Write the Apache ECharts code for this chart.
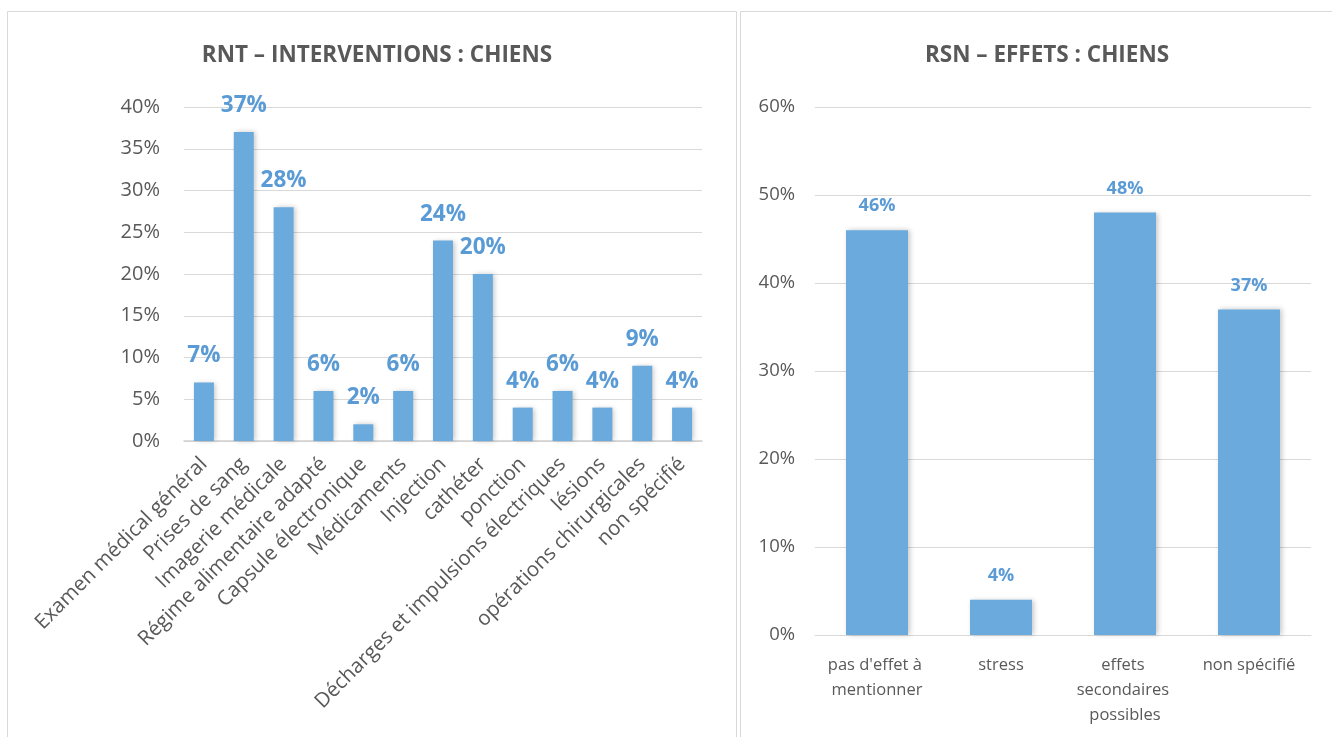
<!DOCTYPE html>
<html>
<head>
<meta charset="utf-8">
<script src="https://cdn.jsdelivr.net/npm/echarts@6/dist/echarts.min.js"></script>
<style>
  html, body { margin: 0; padding: 0; background: #fff; }
  #main { width: 1332px; height: 737px; }
</style>
</head>
<body>
<div id="main"></div>
<script>
// RNT - interventions (chiens)
const interventionCats = ['Examen médical général', 'Prises de sang', 'Imagerie médicale',
  'Régime alimentaire adapté', 'Capsule électronique', 'Médicaments', 'Injection', 'cathéter',
  'ponction', 'Décharges et impulsions électriques', 'lésions', 'opérations chirurgicales', 'non spécifié'];
const interventionVals = [7, 37, 28, 6, 2, 6, 24, 20, 4, 6, 4, 9, 4];

// RSN - effets (chiens)
const effetCats = ["pas d'effet à mentionner", 'stress', 'effets secondaires possibles', 'non spécifié'];
const effetVals = [46, 4, 48, 37];

const FONT = '"Open Sans", sans-serif';
const GREY = '#595959';
const BAR = '#6aaadc';
const LABEL = '#5b9bd5';

const barShadow = {
  color: BAR,
  shadowColor: 'rgba(0,0,0,0.22)',
  shadowBlur: 5,
  shadowOffsetX: 2
};

const chart = echarts.init(document.getElementById('main'));
chart.setOption({
  animation: false,
  textStyle: { fontFamily: FONT },
  graphic: [
    // panel borders
    { type: 'rect', shape: { x: 7.5, y: 11.5, width: 729, height: 740 },
      style: { fill: 'none', stroke: '#d9d9d9', lineWidth: 1 }, silent: true },
    { type: 'rect', shape: { x: 740.5, y: 11.5, width: 600, height: 740 },
      style: { fill: 'none', stroke: '#d9d9d9', lineWidth: 1 }, silent: true }
  ],
  title: [
    { text: 'RNT – INTERVENTIONS : CHIENS', left: 372, top: 39, textAlign: 'center',
      textStyle: { color: GREY, fontSize: 22.5, fontWeight: 'bold', fontFamily: FONT } },
    { text: 'RSN – EFFETS : CHIENS', left: 1042, top: 39, textAlign: 'center',
      textStyle: { color: GREY, fontSize: 22.5, fontWeight: 'bold', fontFamily: FONT } }
  ],
  grid: [
    { left: 184, right: 630, top: 107, bottom: 296 },
    { left: 815, right: 21, top: 107, bottom: 102 }
  ],
  xAxis: [{
    gridIndex: 0,
    type: 'category',
    data: interventionCats,
    axisTick: { show: false },
    axisLine: { lineStyle: { color: '#d0d0d0', width: 1.5 } },
    axisLabel: { rotate: 45, interval: 0, margin: 20, color: GREY, fontSize: 20.5, fontFamily: FONT }
  }, {
    gridIndex: 1,
    type: 'category',
    data: effetCats,
    axisTick: { show: false },
    axisLine: { lineStyle: { color: '#d9d9d9' } },
    axisLabel: { interval: 0, margin: 18, color: GREY, fontSize: 16.5, lineHeight: 25,
      width: 120, overflow: 'break', fontFamily: FONT }
  }],
  yAxis: [{
    gridIndex: 0,
    type: 'value',
    min: 0, max: 40, interval: 5,
    axisLine: { show: false },
    axisTick: { show: false },
    splitLine: { lineStyle: { color: '#d9d9d9' } },
    axisLabel: { formatter: '{value}%', margin: 24, color: GREY, fontSize: 20, fontFamily: FONT }
  }, {
    gridIndex: 1,
    type: 'value',
    min: 0, max: 60, interval: 10,
    axisLine: { show: false },
    axisTick: { show: false },
    splitLine: { lineStyle: { color: '#d9d9d9' } },
    axisLabel: { formatter: '{value}%', margin: 20, color: GREY, fontSize: 18.5, fontFamily: FONT }
  }],
  series: [{
    type: 'bar',
    xAxisIndex: 0, yAxisIndex: 0,
    data: interventionVals,
    barWidth: 20,
    itemStyle: barShadow,
    label: { show: true, position: 'top', distance: 15, formatter: '{c}%',
      color: LABEL, fontSize: 22.5, fontWeight: 'bold', fontFamily: FONT }
  }, {
    type: 'bar',
    xAxisIndex: 1, yAxisIndex: 1,
    data: effetVals,
    barWidth: 62,
    itemStyle: barShadow,
    label: { show: true, position: 'top', distance: 15, formatter: '{c}%',
      color: LABEL, fontSize: 18, fontWeight: 'bold', fontFamily: FONT }
  }]
});
</script>
</body>
</html>
